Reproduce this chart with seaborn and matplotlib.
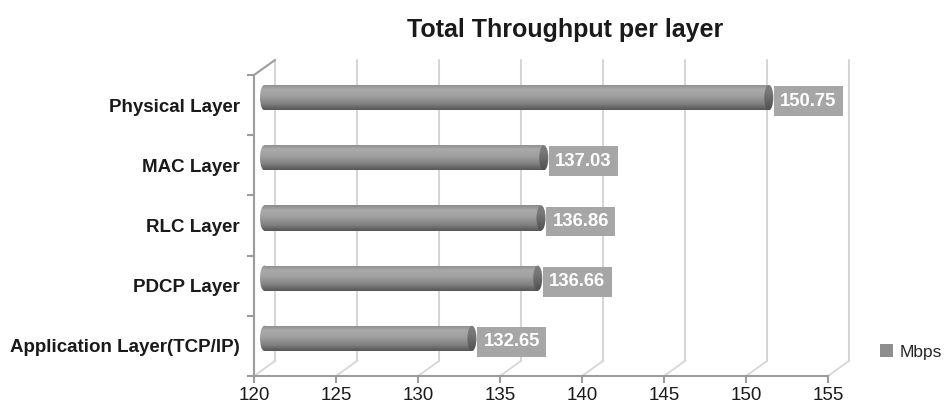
import numpy as np
import matplotlib
matplotlib.use("Agg")
import matplotlib.pyplot as plt
import seaborn as sns
from matplotlib.colors import LinearSegmentedColormap
from matplotlib.patches import Ellipse, Patch
from matplotlib.transforms import ScaledTranslation

# Throughput measured at each protocol layer
layers = ["Physical Layer", "MAC Layer", "RLC Layer", "PDCP Layer",
          "Application Layer(TCP/IP)"]
mbps = [150.75, 137.03, 136.86, 136.66, 132.65]
x_ticks = [120, 125, 130, 135, 140, 145, 150, 155]

sns.set_theme(style="white")
plt.rcParams["font.family"] = ["Liberation Sans", "DejaVu Sans"]

W, H, DPI = 945, 404, 100
fig = plt.figure(figsize=(W / DPI, H / DPI), dpi=DPI)
ax = fig.add_axes([254 / W, 1 - 376 / H, (828 - 254) / W, (376 - 75) / H])

AXIS_C = "#9c9c9c"
GRID_C = "#d6d6d6"
BAR_H = 0.42

# depth offsets for the pseudo-3D look (back wall and bar mid-plane)
back = ax.transData + ScaledTranslation(21 / DPI, 15 / DPI, fig.dpi_scale_trans)
mid = ax.transData + ScaledTranslation(10.5 / DPI, 7.5 / DPI, fig.dpi_scale_trans)

sns.barplot(x=mbps, y=layers, orient="h", color="#909090", width=BAR_H,
            ax=ax, zorder=3)

x0, x1 = x_ticks[0], x_ticks[-1]
ylo, yhi = -0.5, len(layers) - 0.5

# back wall gridlines and floor diagonals
for xv in x_ticks:
    ax.plot([xv, xv], [yhi, ylo], color=GRID_C, lw=1.5, transform=back,
            clip_on=False, zorder=1)
    ax.annotate("", xy=(xv, yhi), xycoords=back, xytext=(xv, yhi),
                textcoords=ax.transData,
                arrowprops=dict(arrowstyle="-", color=GRID_C, lw=1.3,
                                shrinkA=0, shrinkB=0), zorder=1)
# top-left diagonal of the side wall
ax.annotate("", xy=(x0, ylo), xycoords=back, xytext=(x0, ylo),
            textcoords=ax.transData,
            arrowprops=dict(arrowstyle="-", color=AXIS_C, lw=1.5,
                            shrinkA=0, shrinkB=0), zorder=1)

body_cmap = LinearSegmentedColormap.from_list(
    "body", [(0.0, "#8a8a8a"), (0.2, "#a9a9a9"), (0.45, "#a0a0a0"),
             (0.75, "#828282"), (1.0, "#555555")])
cap_cmap = LinearSegmentedColormap.from_list(
    "cap", [(0.0, "#7c7c7c"), (0.3, "#787878"), (1.0, "#505050")])
grad = np.linspace(0, 1, 256).reshape(-1, 1)

cap_w = 9.0 / ((828 - 254) / (x1 - x0))  # cap ellipse width in data units

for p in list(ax.patches):
    # bars start at the axis origin (120) rather than at zero
    end = p.get_x() + p.get_width()
    p.set_x(x0)
    p.set_width(end - x0)
    p.set_transform(mid)
    p.set_edgecolor("none")
    p.set_clip_on(False)
    bx, by, bw, bh = p.get_x(), p.get_y(), p.get_width(), p.get_height()
    yc = by + bh / 2
    im = ax.imshow(grad, extent=[bx, bx + bw, by + bh, by], aspect="auto",
                   cmap=body_cmap, transform=mid, zorder=3.1,
                   interpolation="bilinear")
    im.set_clip_path(p)
    # rounded left end
    le = Ellipse((bx, yc), cap_w, bh, transform=mid, fc="none", ec="none")
    ax.add_patch(le)
    im2 = ax.imshow(grad, extent=[bx - cap_w, bx + cap_w, by + bh, by],
                    aspect="auto", cmap=body_cmap, transform=mid, zorder=3.0,
                    interpolation="bilinear")
    im2.set_clip_path(le)
    # visible right end cap
    re = Ellipse((bx + bw, yc), cap_w, bh, transform=mid, fc="none", ec="none")
    ax.add_patch(re)
    im3 = ax.imshow(grad, extent=[bx + bw - cap_w, bx + bw + cap_w, by + bh, by],
                    aspect="auto", cmap=cap_cmap, transform=mid, zorder=3.2,
                    interpolation="bilinear")
    im3.set_clip_path(re)

# value labels
for i, v in enumerate(mbps):
    ax.annotate(f"{v:.2f}", xy=(v, i), xytext=(22 * 0.72, 4 * 0.72),
                textcoords="offset points", ha="left", va="center",
                fontsize=13.3, fontweight="bold", color="white", zorder=5,
                bbox=dict(boxstyle="square,pad=0.35", fc="#a6a6a6", ec="none"))

ax.set_xlim(x0, x1)
ax.set_ylim(yhi, ylo)
ax.set_xticks(x_ticks)
ax.set_xticklabels([str(t) for t in x_ticks], fontsize=13.5, color="#1a1a1a")
ax.set_yticks(range(len(layers)))
ax.set_yticklabels(layers, fontsize=13.5, fontweight="bold", color="#1a1a1a")
ax.set_yticks(np.arange(ylo, yhi + 0.01, 1.0), minor=True)
ax.set_xlabel("")
ax.set_ylabel("")
for lab in ax.get_yticklabels():
    lab.set_transform(lab.get_transform()
                      + ScaledTranslation(0, -3 / DPI, fig.dpi_scale_trans))

for s in ("top", "right"):
    ax.spines[s].set_visible(False)
for s in ("left", "bottom"):
    ax.spines[s].set_color(AXIS_C)
    ax.spines[s].set_linewidth(1.5)
ax.tick_params(axis="x", which="major", length=5, width=1.5, color=AXIS_C,
               direction="out", bottom=True, pad=3)
ax.tick_params(axis="y", which="major", length=0, pad=10)
ax.tick_params(axis="y", which="minor", length=5, width=1.5, color=AXIS_C,
               direction="out", left=True)
ax.patch.set_alpha(0)

fig.text(565 / W, 1 - 30 / H, "Total Throughput per layer", ha="center",
         va="center", fontsize=18, fontweight="bold", color="#1a1a1a")

fig.legend(handles=[Patch(fc="#8e8e8e", ec="none", label="Mbps")],
           loc="center left", bbox_to_anchor=(880 / W, 1 - 352 / H),
           frameon=False, fontsize=12.5, handlelength=0.75, handleheight=0.75,
           handletextpad=0.4, borderaxespad=0, borderpad=0)

fig.savefig("out.png", dpi=DPI)
